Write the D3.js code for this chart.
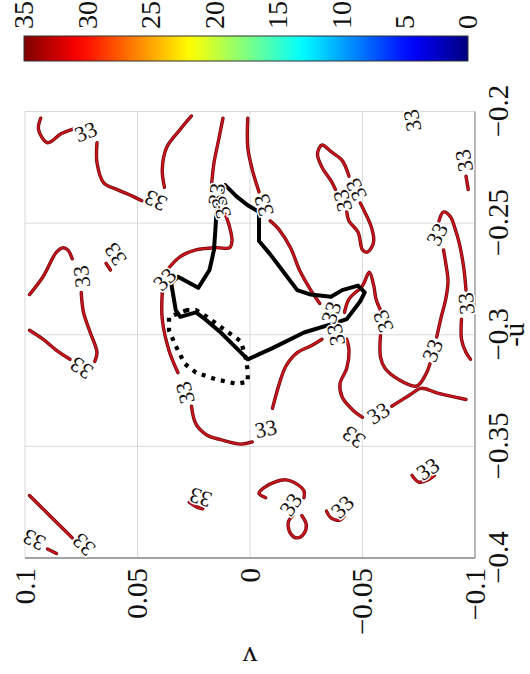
<!DOCTYPE html>
<html>
<head>
<meta charset="utf-8">
<script src="https://cdn.jsdelivr.net/npm/d3@7"></script>
<style>
  body { margin: 0; background: #fff; }
  svg { display: block; }
</style>
</head>
<body>
<svg id="chart" width="530" height="674"></svg>
<script>
// ---- axes and colour bar ----
const level = 33;
const uTicks = [-0.4, -0.35, -0.3, -0.25, -0.2];
const uTickLabels = ["\u22120.4", "\u22120.35", "\u22120.3", "\u22120.25", "\u22120.2"];
const vTicks = [-0.1, -0.05, 0, 0.05, 0.1];
const vTickLabels = ["\u22120.1", "\u22120.05", "0", "0.05", "0.1"];
const cbTicks = [0, 5, 10, 15, 20, 25, 30, 35];

// ---- level-33 contour pieces, [u, v] (broken where the labels sit) ----
const contourA1 = [[-0.203,0.093],[-0.208,0.094],[-0.214,0.090],[-0.210,0.084],[-0.208,0.079]];
const contourA2 = [[-0.214,0.068],[-0.223,0.068],[-0.232,0.065],[-0.235,0.059],[-0.238,0.052],[-0.240,0.048]];
const contourA3 = [[-0.234,0.038],[-0.226,0.039],[-0.216,0.037],[-0.208,0.031],[-0.202,0.026]];
const contourB1 = [[-0.203,0.012],[-0.213,0.014],[-0.223,0.016],[-0.232,0.017]];
const contourB2 = [[-0.246,0.011],[-0.252,0.009],[-0.258,0.008],[-0.261,0.009],[-0.261,0.015],[-0.262,0.024],[-0.265,0.031],[-0.270,0.036]];
const contourB3 = [[-0.281,0.039],[-0.293,0.039],[-0.307,0.036],[-0.317,0.032]];
const contourB4 = [[-0.332,0.026],[-0.340,0.024],[-0.345,0.019],[-0.347,0.013],[-0.349,0.004],[-0.348,-0.001]];
const contourB5 = [[-0.333,-0.010],[-0.322,-0.013],[-0.314,-0.016],[-0.308,-0.021],[-0.305,-0.027],[-0.302,-0.032]];
const contourB6 = [[-0.302,-0.043],[-0.307,-0.044],[-0.315,-0.043],[-0.322,-0.040],[-0.328,-0.041],[-0.334,-0.046],[-0.337,-0.050]];
const contourE  = [[-0.332,-0.063],[-0.327,-0.071],[-0.324,-0.076],[-0.326,-0.083],[-0.329,-0.096]];
const contourD1 = [[-0.203,0.001],[-0.216,0.001],[-0.226,-0.001],[-0.236,-0.004]];
const contourD2 = [[-0.249,-0.009],[-0.253,-0.013],[-0.261,-0.018],[-0.271,-0.022],[-0.280,-0.027],[-0.286,-0.031]];
const contourD3 = [[-0.290,-0.042],[-0.284,-0.044],[-0.278,-0.050],[-0.272,-0.053],[-0.278,-0.055],[-0.284,-0.056],[-0.289,-0.058]];
const contourD4 = [[-0.300,-0.058],[-0.310,-0.058],[-0.315,-0.060],[-0.320,-0.066],[-0.323,-0.074],[-0.318,-0.078],[-0.313,-0.080]];
const contourD5 = [[-0.301,-0.083],[-0.292,-0.085],[-0.284,-0.087],[-0.276,-0.088],[-0.268,-0.087],[-0.262,-0.086]];
const contourD6 = [[-0.249,-0.084],[-0.245,-0.086],[-0.247,-0.089],[-0.252,-0.091],[-0.259,-0.093],[-0.270,-0.095],[-0.280,-0.096]];
const contourD7 = [[-0.293,-0.094],[-0.302,-0.094],[-0.308,-0.096],[-0.311,-0.098]];
const contourF1 = [[-0.229,-0.044],[-0.222,-0.041],[-0.218,-0.036],[-0.215,-0.032],[-0.219,-0.030],[-0.225,-0.032],[-0.231,-0.036],[-0.235,-0.038]];
const contourF2 = [[-0.245,-0.043],[-0.249,-0.044],[-0.254,-0.048],[-0.262,-0.050],[-0.263,-0.052],[-0.261,-0.054],[-0.258,-0.055],[-0.252,-0.054],[-0.245,-0.051],[-0.241,-0.049]];
const contourH  = [[-0.229,-0.096],[-0.235,-0.097]];
const contourC1 = [[-0.282,0.098],[-0.274,0.092],[-0.263,0.086],[-0.261,0.083],[-0.262,0.081],[-0.266,0.079]];
const contourC2 = [[-0.281,0.075],[-0.290,0.074],[-0.299,0.071],[-0.308,0.068],[-0.312,0.069]];
const contourC3 = [[-0.311,0.080],[-0.307,0.086],[-0.302,0.092],[-0.298,0.098]];
const contourS  = [[-0.268,0.064],[-0.271,0.062]];
const contourBL1 = [[-0.372,0.098],[-0.378,0.092],[-0.386,0.084],[-0.391,0.079]];
const contourBL2 = [[-0.396,0.090],[-0.398,0.086]];
const contourM1 = [[-0.375,0.027],[-0.377,0.024],[-0.378,0.021]];
const contourP1 = [[-0.373,-0.007],[-0.371,-0.004],[-0.368,-0.007],[-0.366,-0.011],[-0.365,-0.016],[-0.367,-0.021],[-0.370,-0.024],[-0.373,-0.024]];
const contourP2 = [[-0.381,-0.019],[-0.384,-0.017],[-0.389,-0.018],[-0.391,-0.021],[-0.389,-0.024],[-0.385,-0.025],[-0.381,-0.023]];
const contourM2 = [[-0.379,-0.034],[-0.382,-0.036],[-0.383,-0.040],[-0.381,-0.042]];
const contourM3 = [[-0.363,-0.072],[-0.366,-0.075],[-0.365,-0.079],[-0.363,-0.082]];

const contourLines = [contourA1, contourA2, contourA3, contourB1, contourB2, contourB3, contourB4,
  contourB5, contourB6, contourE, contourD1, contourD2, contourD3, contourD4, contourD5, contourD6,
  contourD7, contourF1, contourF2, contourH, contourC1, contourC2, contourC3, contourS,
  contourBL1, contourBL2, contourM1, contourP1, contourP2, contourM2, contourM3];

// label anchors on the level-33 contours, [u, v]
const labelPoints = [
  [-0.209,0.073],[-0.240,0.042],[-0.237,0.015],[-0.243,0.013],[-0.275,0.038],[-0.326,0.029],
  [-0.342,-0.007],[-0.300,-0.038],[-0.335,-0.057],[-0.346,-0.046],[-0.242,-0.006],[-0.290,-0.036],
  [-0.294,-0.059],[-0.307,-0.081],[-0.255,-0.083],[-0.286,-0.096],[-0.240,-0.041],[-0.235,-0.047],
  [-0.204,-0.072],[-0.222,-0.095],[-0.274,0.075],[-0.315,0.075],[-0.264,0.060],[-0.394,0.074],
  [-0.392,0.096],[-0.373,0.022],[-0.376,-0.018],[-0.377,-0.041],[-0.360,-0.079]
];

// region outlines, [u, v]
const regionSolid = [[-0.233,0.011],[-0.238,0.006],[-0.242,0.001],[-0.245,-0.004],[-0.258,-0.004],
  [-0.264,-0.009],[-0.272,-0.015],[-0.280,-0.021],[-0.282,-0.027],[-0.283,-0.036],[-0.280,-0.041],
  [-0.278,-0.048],[-0.281,-0.051],[-0.285,-0.049],[-0.293,-0.043],[-0.295,-0.037],[-0.299,-0.024],
  [-0.306,-0.010],[-0.311,0.001],[-0.308,0.004],[-0.299,0.013],[-0.293,0.020],[-0.290,0.024],
  [-0.292,0.031],[-0.289,0.033],[-0.277,0.035],[-0.274,0.032],[-0.279,0.023],[-0.271,0.018],
  [-0.262,0.016],[-0.247,0.015],[-0.241,0.014]];
const regionDotted = [[-0.289,0.028],[-0.292,0.036],[-0.298,0.036],[-0.305,0.033],[-0.313,0.029],
  [-0.317,0.024],[-0.320,0.015],[-0.322,0.006],[-0.321,0.001],[-0.316,0.001],[-0.310,0.002],
  [-0.303,0.004],[-0.298,0.011],[-0.292,0.019],[-0.289,0.024]];

// ---- drawing ----
const svg = d3.select("#chart");
const W = 674;                       // long side of the page; the figure is laid out landscape
const g = svg.append("g").attr("transform", `translate(0,${W}) rotate(-90)`);
const plot = { left: 116, right: 562.5, top: 25, bottom: 475 };
const font = "'Liberation Serif','Times New Roman',serif";

const x = d3.scaleLinear().domain([-0.4, -0.2]).range([plot.left, plot.right]);
const y = d3.scaleLinear().domain([-0.1, 0.1]).range([plot.bottom, plot.top]);

// grid
const grid = g.append("g").attr("stroke", "#d9d9d9").attr("stroke-width", 1);
grid.selectAll("line.gu").data(uTicks).join("line")
  .attr("x1", d => x(d)).attr("x2", d => x(d))
  .attr("y1", plot.top).attr("y2", plot.bottom);
grid.selectAll("line.gv").data(vTicks).join("line")
  .attr("y1", d => y(d)).attr("y2", d => y(d))
  .attr("x1", plot.left).attr("x2", plot.right);

// frame: darker on the two axis sides
g.append("line").attr("x1", plot.left).attr("x2", plot.left).attr("y1", plot.top).attr("y2", plot.bottom)
  .attr("stroke", "#8a8a8a").attr("stroke-width", 1.3);
g.append("line").attr("x1", plot.left).attr("x2", plot.right).attr("y1", plot.bottom).attr("y2", plot.bottom)
  .attr("stroke", "#9a9a9a").attr("stroke-width", 1.3);

// clip
svg.append("defs").append("clipPath").attr("id", "plotClip")
  .append("rect").attr("x", plot.left).attr("y", plot.top)
  .attr("width", plot.right - plot.left).attr("height", plot.bottom - plot.top);
const area = g.append("g").attr("clip-path", "url(#plotClip)");

// contour lines
const smooth = d3.line().x(d => x(d[0])).y(d => y(d[1])).curve(d3.curveCatmullRom.alpha(0.5));
area.append("g").selectAll("path").data(contourLines).join("path")
  .attr("d", smooth)
  .attr("fill", "none").attr("stroke", "#6e0a0c").attr("stroke-width", 3.4)
  .attr("stroke-linecap", "round").attr("stroke-linejoin", "round");
area.append("g").selectAll("path").data(contourLines).join("path")
  .attr("d", smooth)
  .attr("fill", "none").attr("stroke", "#c8141c").attr("stroke-width", 2)
  .attr("stroke-linecap", "round").attr("stroke-linejoin", "round");

// region outlines
const straightClosed = d3.line().x(d => x(d[0])).y(d => y(d[1])).curve(d3.curveLinearClosed);
area.append("path").attr("d", straightClosed(regionDotted))
  .attr("fill", "none").attr("stroke", "#000").attr("stroke-width", 4.2)
  .attr("stroke-dasharray", "4,6");
area.append("path").attr("d", straightClosed(regionSolid))
  .attr("fill", "none").attr("stroke", "#000").attr("stroke-width", 4)
  .attr("stroke-linejoin", "round");

// contour labels, turned along the nearest contour piece
const pix = contourLines.map(l => l.map(p => [x(p[0]), y(p[1])]));
function alongAngle(px, py) {
  let best = Infinity, ang = 0;
  pix.forEach(line => {
    for (let i = 0; i < line.length - 1; i++) {
      const [x1, y1] = line[i], [x2, y2] = line[i + 1];
      const dx = x2 - x1, dy = y2 - y1;
      const L = dx * dx + dy * dy || 1;
      const t = Math.max(0, Math.min(1, ((px - x1) * dx + (py - y1) * dy) / L));
      const d = Math.hypot(px - (x1 + t * dx), py - (y1 + t * dy));
      if (d < best) { best = d; ang = Math.atan2(dy, dx) * 180 / Math.PI; }
    }
  });
  if (ang >= 90) ang -= 180;
  if (ang < -90) ang += 180;
  return ang;
}
g.append("g").selectAll("text").data(labelPoints).join("text")
  .attr("transform", d => {
    const px = x(d[0]), py = y(d[1]);
    return `translate(${px},${py}) rotate(${alongAngle(px, py)})`;
  })
  .attr("text-anchor", "middle").attr("dy", "0.35em")
  .attr("font-family", font).attr("font-size", 22)
  .attr("fill", "#161010").attr("stroke", "#fff").attr("stroke-width", 3)
  .attr("paint-order", "stroke")
  .text(level);

// axes
const xAxis = g.append("g").attr("transform", `translate(0,${plot.bottom})`)
  .call(d3.axisBottom(x).tickValues(uTicks).tickFormat((d, i) => uTickLabels[i]).tickSize(0).tickPadding(12));
xAxis.select(".domain").remove();
xAxis.attr("font-family", font).attr("font-size", 29);
xAxis.selectAll("text").attr("fill", "#111");

const yAxis = g.append("g").attr("transform", `translate(${plot.left},0)`)
  .call(d3.axisLeft(y).tickValues(vTicks).tickFormat((d, i) => vTickLabels[i]).tickSize(0).tickPadding(10));
yAxis.select(".domain").remove();
yAxis.attr("font-family", font).attr("font-size", 29);
yAxis.selectAll("text").attr("fill", "#111");

g.append("text").attr("x", x(-0.3)).attr("y", 524).attr("text-anchor", "middle")
  .attr("font-family", font).attr("font-size", 29).attr("fill", "#111").text("-u");
g.append("text").attr("transform", `translate(27,${y(0)}) rotate(-90)`).attr("text-anchor", "middle")
  .attr("font-family", font).attr("font-size", 29).attr("fill", "#111").text("v");

// colour bar (jet)
const cb = d3.scaleLinear().domain([35, 0]).range([24, 468]);
const jet = d3.scaleLinear()
  .domain([0, 0.125, 0.375, 0.625, 0.875, 1].map(t => t * 35))
  .range(["#00007f", "#0000ff", "#00ffff", "#ffff00", "#ff0000", "#7f0000"]);
const grad = svg.select("defs").append("linearGradient").attr("id", "cbGrad")
  .attr("x1", 0).attr("y1", 0).attr("x2", 0).attr("y2", 1);
grad.selectAll("stop").data(d3.range(35, -0.5, -1)).join("stop")
  .attr("offset", d => (35 - d) / 35).attr("stop-color", d => jet(d));
const cbX = 613, cbW = 25;
g.append("rect").attr("x", cbX).attr("y", cb(35)).attr("width", cbW).attr("height", cb(0) - cb(35))
  .attr("fill", "url(#cbGrad)").attr("stroke", "#333").attr("stroke-width", 1);
const cAxis = g.append("g").attr("transform", `translate(${cbX + cbW},0)`)
  .call(d3.axisRight(cb).tickValues(cbTicks).tickFormat(d3.format("d")).tickSize(0).tickPadding(7));
cAxis.select(".domain").remove();
cAxis.attr("font-family", font).attr("font-size", 28);
cAxis.selectAll("text").attr("fill", "#111");
</script>
</body>
</html>
